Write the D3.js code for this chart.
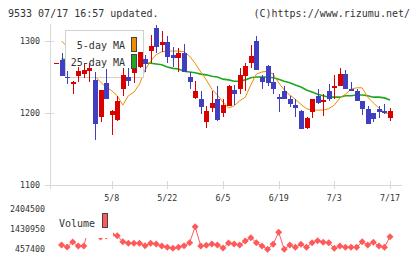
<!DOCTYPE html>
<html>
<head>
<meta charset="utf-8">
<script src="https://cdn.jsdelivr.net/npm/d3@7"></script>
<style>
  body { margin: 0; background: #fff; }
  svg { display: block; font-family: "DejaVu Sans Mono", monospace; }
</style>
</head>
<body>
<svg id="chart" width="420" height="259"></svg>
<script>
// 61 trading days, index 0 .. 60
const tickIdx = [10, 20, 30, 40, 50, 60];
const tickLabels = ["5/8", "5/22", "6/5", "6/19", "7/3", "7/17"];
const priceTicks = [1100, 1200, 1300];
const volTicks = [457400, 1430950, 2404500];

const open = [1269,1273,1250,1240,1252,1254,1258,1246,1195,1242,1197,1190,1234,1250,1256,1264,1275,1286,1318,1294,
  1299,1280,1276,1284,1250,1221,1220,1188,1207,1220,1200,1210,1232,1233,1252,1270,1300,1250,1265,1243,
  1222,1231,1220,1211,1203,1179,1201,1224,1215,1231,1235,1237,1254,1234,1231,1217,1206,1200,1206,1203,1193];
const high = [1270,1283,1259,1244,1264,1269,1269,1257,1232,1261,1204,1224,1262,1262,1271,1285,1281,1308,1322,1314,
  1307,1292,1290,1296,1257,1244,1231,1210,1231,1238,1220,1239,1239,1262,1270,1294,1307,1253,1267,1256,
  1227,1238,1224,1219,1204,1194,1220,1234,1227,1240,1253,1262,1260,1243,1234,1217,1210,1200,1210,1212,1207];
const low = [1268,1252,1240,1227,1243,1249,1243,1163,1188,1220,1170,1189,1223,1237,1241,1262,1257,1269,1284,1285,
  1269,1264,1257,1257,1234,1219,1199,1179,1201,1189,1195,1210,1211,1226,1230,1263,1260,1234,1237,1227,
  1202,1220,1209,1195,1178,1178,1193,1213,1196,1216,1220,1237,1234,1231,1216,1197,1185,1188,1193,1198,1189];
const close = [1269,1252,1249,1243,1258,1260,1263,1185,1232,1220,1203,1217,1253,1244,1264,1285,1268,1293,1291,1298,
  1278,1277,1284,1257,1243,1231,1209,1203,1214,1190,1211,1238,1226,1253,1265,1279,1260,1243,1242,1234,
  1220,1220,1213,1207,1178,1193,1220,1214,1218,1219,1238,1254,1234,1231,1216,1205,1185,1192,1202,1200,1203];

const ma5 = [null,1300,1292,1283,1275,1268,1260,1251,1243,1236,1231,1224,1211,1224,1229,1240,1260,1272,1281,1285,
  1286,1286,1286,1285,1279,1269,1257,1246,1233,1225,1215,1207,1210,1217,1222,1239,1254,1257,1258,1254,
  1242,1232,1225,1219,1212,1206,1204,1204,1204,1206,1211,1221,1226,1233,1235,1235,1222,1214,1207,1200,1199];
const ma25 = [null,1275,1274,1274,1273,1272,1272,1271,1271,1270,1270,1270,1269,1269,1269,1269,1269,1269,1268,1267,
  1264,1262,1261,1258,1257,1256,1254,1253,1251,1250,1247,1246,1244,1244,1246,1249,1250,1250,1250,1249,
  1247,1244,1242,1239,1236,1232,1229,1226,1224,1222,1222,1222,1224,1224,1225,1225,1224,1222,1222,1221,1218];

const volume = [null,652000,555000,798000,603000,603000,1630000,1480000,1040000,1090000,1160000,1100000,813000,735000,735000,735000,618000,735000,700000,603000,
  540000,491000,540000,618000,764000,1540000,600000,645000,700000,652000,506000,749000,700000,652000,847000,1008000,764000,603000,443000,686000,
  1270000,443000,652000,540000,686000,540000,764000,861000,784000,764000,491000,603000,540000,540000,540000,813000,652000,784000,603000,540000,1056000];

const svg = d3.select("#chart");
const x = d3.scaleLinear().domain([0, 60]).range([56, 390]);
const y = d3.scaleLinear().domain([1100, 1300]).range([185, 41]);
const yv = d3.scaleLinear().domain([457400, 2404500]).range([249, 209]);

const textColor = "#333";
const gridColor = "#d8d8d8";
const upColor = "#d90000";
const downColor = "#3f3fbf";
const ma5Color = "#f08c00";
const ma25Color = "#1fa71f";
const volColor = "#ff5a5a";

// header
svg.append("text").attr("x", 8).attr("y", 17).attr("font-size", 10).attr("fill", textColor)
  .text("9533 07/17 16:57 updated.");
svg.append("text").attr("x", 410).attr("y", 17).attr("font-size", 10).attr("fill", textColor)
  .attr("text-anchor", "end").text("(C)https://www.rizumu.net/");

// axes
const axisG = svg.append("g").attr("shape-rendering", "crispEdges");
axisG.append("line").attr("x1", 50.5).attr("x2", 50.5).attr("y1", 24).attr("y2", 189)
  .attr("stroke", gridColor);
axisG.append("line").attr("x1", 50).attr("x2", 402).attr("y1", y(1100) + 0.5).attr("y2", y(1100) + 0.5)
  .attr("stroke", gridColor);
axisG.selectAll(".ytick").data(priceTicks).enter().append("line")
  .attr("x1", 45).attr("x2", 54)
  .attr("y1", (d) => Math.round(y(d)) + 0.5).attr("y2", (d) => Math.round(y(d)) + 0.5)
  .attr("stroke", gridColor);
svg.selectAll(".ylab").data(priceTicks).enter().append("text")
  .attr("x", 40).attr("y", (d) => y(d)).attr("dy", "0.35em")
  .attr("text-anchor", "end").attr("font-size", 8.3).attr("fill", textColor)
  .text((d) => d);
axisG.selectAll(".xtick").data(tickIdx).enter().append("line")
  .attr("x1", (d) => Math.round(x(d)) + 0.5).attr("x2", (d) => Math.round(x(d)) + 0.5)
  .attr("y1", y(1100) - 4).attr("y2", y(1100) + 4)
  .attr("stroke", gridColor);
svg.selectAll(".xlab").data(tickIdx).enter().append("text")
  .attr("x", (d) => x(d)).attr("y", 201)
  .attr("text-anchor", "middle").attr("font-size", 8.3).attr("fill", textColor)
  .text((d, i) => tickLabels[i]);

// moving averages
const lineGen = (arr) => d3.line()
  .defined((d) => d != null)
  .x((d, i) => x(i))
  .y((d) => y(d))(arr);
svg.append("path").attr("d", lineGen(ma25)).attr("fill", "none")
  .attr("stroke", ma25Color).attr("stroke-width", 1.6);
svg.append("path").attr("d", lineGen(ma5)).attr("fill", "none")
  .attr("stroke", ma5Color).attr("stroke-width", 1);

// price legend box (covers lines, candles drawn above)
svg.append("rect").attr("x", 65.5).attr("y", 30.5).attr("width", 78).attr("height", 47)
  .attr("fill", "#fff").attr("stroke", "#d0d0d0").attr("shape-rendering", "crispEdges");

// candles
const idx = d3.range(open.length);
const candles = svg.append("g").attr("shape-rendering", "crispEdges");
candles.selectAll(".wick").data(idx).enter().append("line")
  .attr("x1", (i) => Math.round(x(i)) + 0.5).attr("x2", (i) => Math.round(x(i)) + 0.5)
  .attr("y1", (i) => y(high[i])).attr("y2", (i) => y(low[i]))
  .attr("stroke", (i) => close[i] >= open[i] ? upColor : downColor);
candles.selectAll(".body").data(idx).enter().append("rect")
  .attr("x", (i) => Math.round(x(i)) - 2)
  .attr("width", 5)
  .attr("y", (i) => y(Math.max(open[i], close[i])))
  .attr("height", (i) => Math.max(1, Math.abs(y(open[i]) - y(close[i]))))
  .attr("fill", (i) => close[i] >= open[i] ? upColor : downColor);

// legend text + swatches
svg.append("text").attr("x", 125).attr("y", 49).attr("text-anchor", "end")
  .attr("font-size", 10).attr("fill", textColor).text("5-day MA");
svg.append("text").attr("x", 125).attr("y", 66).attr("text-anchor", "end")
  .attr("font-size", 10).attr("fill", textColor).text("25-day MA");
svg.append("rect").attr("x", 131.5).attr("y", 37.5).attr("width", 5).attr("height", 14)
  .attr("fill", ma5Color).attr("stroke", "#444").attr("shape-rendering", "crispEdges");
svg.append("rect").attr("x", 131.5).attr("y", 54.5).attr("width", 5).attr("height", 14)
  .attr("fill", ma25Color).attr("stroke", "#444").attr("shape-rendering", "crispEdges");

// volume
svg.selectAll(".vlab").data(volTicks).enter().append("text")
  .attr("x", 45).attr("y", (d) => yv(d)).attr("dy", "0.35em")
  .attr("text-anchor", "end").attr("font-size", 8.3).attr("fill", textColor)
  .text((d) => d);
const volLine = d3.line()
  .defined((d) => d != null)
  .x((d, i) => x(i))
  .y((d) => yv(d));
svg.append("path").attr("d", volLine(volume)).attr("fill", "none")
  .attr("stroke", volColor).attr("stroke-width", 1);
svg.selectAll(".vpt").data(idx.filter((i) => volume[i] != null)).enter().append("path")
  .attr("transform", (i) => `translate(${x(i)},${yv(volume[i])})`)
  .attr("d", "M0,-3.5L3.5,0L0,3.5L-3.5,0Z")
  .attr("fill", volColor);

// volume legend (white box hides part of the line)
svg.append("rect").attr("x", 53).attr("y", 205).attr("width", 60).attr("height", 33).attr("fill", "#fff");
svg.append("text").attr("x", 59).attr("y", 227).attr("font-size", 10).attr("fill", textColor).text("Volume");
svg.append("rect").attr("x", 102.5).attr("y", 213.5).attr("width", 5).attr("height", 14)
  .attr("fill", volColor).attr("stroke", "#444").attr("shape-rendering", "crispEdges");
</script>
</body>
</html>
